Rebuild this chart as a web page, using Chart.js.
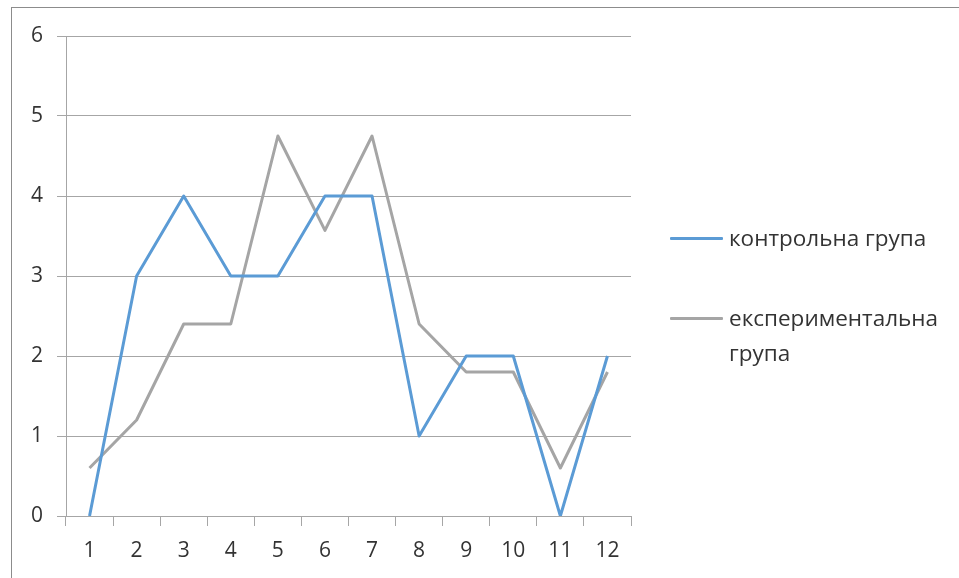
<!DOCTYPE html>
<html>
<head>
<meta charset="utf-8">
<script src="https://cdn.jsdelivr.net/npm/chart.js@4.4.1/dist/chart.umd.min.js"></script>
<style>
    html, body { margin: 0; padding: 0; background: #fff; }
    #wrap { position: relative; width: 959px; height: 578px; overflow: hidden; }
    #frame {
        position: absolute; left: 11px; top: 7px; width: 960px; height: 600px;
        border-top: 1px solid #8c8c8c; border-left: 1px solid #8c8c8c;
    }
    canvas { position: absolute; left: 0; top: 0; }
    .legend-item { position: absolute; left: 670px; font-family: "Open Sans", sans-serif; font-size: 22.5px; color: #333; }
    .legend-item .swatch { position: absolute; left: 0; width: 53px; height: 3px; border-radius: 1px; }
    .legend-item .label { position: absolute; left: 59px; line-height: 35px; white-space: nowrap; }
</style>
</head>
<body>
<div id="wrap">
    <div id="frame"></div>
    <canvas id="lineChart" width="959" height="578"></canvas>
    <div id="legend"></div>
</div>
<script>
// Values
const categories = ['1', '2', '3', '4', '5', '6', '7', '8', '9', '10', '11', '12'];
const controlGroup = [0, 3, 4, 3, 3, 4, 4, 1, 2, 2, 0, 2];
const experimentalGroup = [0.6, 1.2, 2.4, 2.4, 4.75, 3.57, 4.75, 2.4, 1.8, 1.8, 0.6, 1.8];
const seriesNames = ['контрольна група', 'експериментальна група'];
const seriesColors = ['#5b9bd5', '#a5a5a5'];

const gridColor = '#a6a6a6';
const tickFont = { family: '"Open Sans", sans-serif', size: 21 };

const ctx = document.getElementById('lineChart').getContext('2d');
new Chart(ctx, {
    type: 'line',
    data: {
        labels: categories,
        datasets: [
            {
                label: seriesNames[0],
                data: controlGroup,
                borderColor: seriesColors[0],
                backgroundColor: seriesColors[0],
                borderWidth: 3,
                pointRadius: 0,
                tension: 0,
                borderJoinStyle: 'round'
            },
            {
                label: seriesNames[1],
                data: experimentalGroup,
                borderColor: seriesColors[1],
                backgroundColor: seriesColors[1],
                borderWidth: 3,
                pointRadius: 0,
                tension: 0,
                borderJoinStyle: 'round'
            }
        ]
    },
    options: {
        responsive: false,
        animation: false,
        layout: { padding: { left: 0, top: 36, right: 328, bottom: 0 } },
        plugins: {
            legend: { display: false },
            tooltip: { enabled: false }
        },
        scales: {
            x: {
                offset: true,
                grid: { offset: true, drawOnChartArea: false, color: gridColor, tickLength: 10 },
                border: { color: gridColor },
                ticks: { color: '#333', font: tickFont, padding: 12, maxRotation: 0 },
                afterFit: scale => { scale.height = 62; }
            },
            y: {
                min: 0,
                max: 6,
                grid: { color: gridColor, tickLength: 9 },
                border: { color: gridColor },
                ticks: { stepSize: 1, color: '#333', font: tickFont, padding: 14 },
                afterFit: scale => { scale.width = 66; }
            }
        }
    }
});

// Legend on the right, as text
const legend = document.getElementById('legend');
const legendRows = [
    { top: 238, lines: ['контрольна група'] },
    { top: 318, lines: ['експериментальна', 'група'] }
];
legendRows.forEach((row, i) => {
    const item = document.createElement('div');
    item.className = 'legend-item';
    item.style.top = row.top + 'px';
    const swatch = document.createElement('div');
    swatch.className = 'swatch';
    swatch.style.top = '-1px';
    swatch.style.background = seriesColors[i];
    const label = document.createElement('div');
    label.className = 'label';
    label.style.top = '-18px';
    label.innerHTML = row.lines.join('<br>');
    item.appendChild(swatch);
    item.appendChild(label);
    legend.appendChild(item);
});
</script>
</body>
</html>
